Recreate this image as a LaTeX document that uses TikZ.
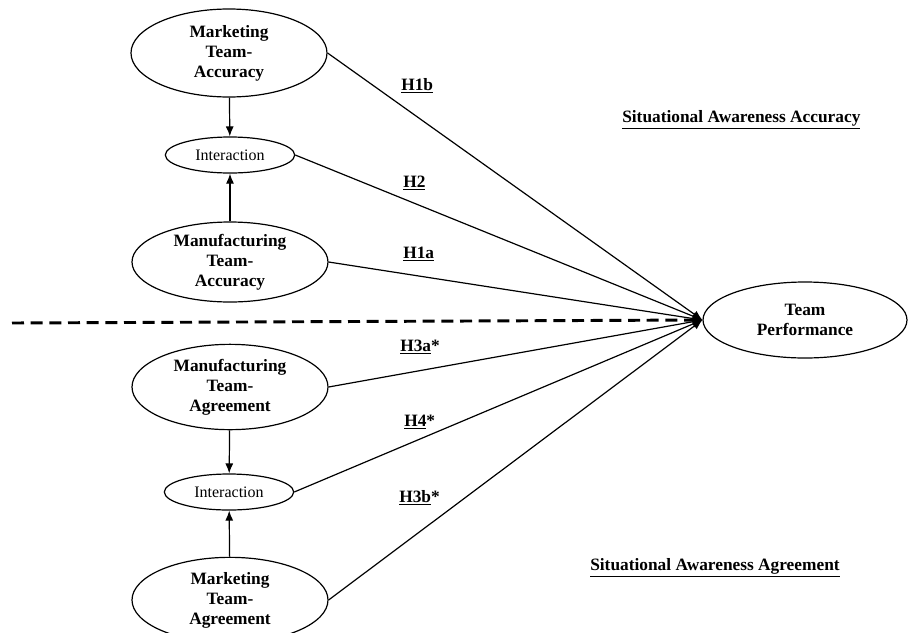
\documentclass[tikz,border=0pt]{standalone}
\usepackage{fontspec}
\setmainfont{Liberation Serif}
\usetikzlibrary{shapes, arrows.meta, positioning}
\tikzstyle{construct}=[draw,ellipse,line width=0.9pt,inner sep=0pt,align=center,font=\fontsize{13}{15}\selectfont\bfseries,minimum width=147pt,minimum height=62pt]
\tikzstyle{inter}=[draw,ellipse,line width=0.9pt,inner sep=0pt,font=\fontsize{12}{14}\selectfont,minimum width=97pt,minimum height=27pt]
\tikzstyle{hyp}=[anchor=west,inner sep=0pt,font=\fontsize{13}{15}\selectfont\bfseries]
\tikzstyle{link}=[->,line width=0.9pt]
\newcommand{\hy}[1]{\underline{#1}}

\begin{document}
\begin{tikzpicture}[x=0.75pt,y=-0.75pt,>={Latex[length=7.5pt,width=6pt]}]
  \useasboundingbox (0,0) rectangle (909,632);
  \clip (0,0) rectangle (909,632);
  % accuracy side
  \node[construct, minimum height=66pt] (mkacc) at (229,53) {Marketing\\Team-\\Accuracy};
  \node[inter] (intacc) at (230,155) {Interaction};
  \node[construct, minimum height=60pt] (mfacc) at (230,262) {Manufacturing\\Team-\\Accuracy};
  % agreement side
  \node[construct, minimum height=64pt] (mfagr) at (230,387) {Manufacturing\\Team-\\Agreement};
  \node[inter] (intagr) at (229,492) {Interaction};
  \node[construct, minimum height=64pt] (mkagr) at (230,600) {Marketing\\Team-\\Agreement};
  % outcome
  \node[construct, minimum width=153pt, minimum height=57pt] (perf) at (805,320) {Team\\Performance};
  % hypotheses
  \node[hyp] (h1b) at (401,86) {\hy{H1b}};
  \node[hyp] (h2) at (403,183) {\hy{H2}};
  \node[hyp] (h1a) at (403,254) {\hy{H1a}};
  \node[hyp] (h3a) at (400,347) {\hy{H3a}*};
  \node[hyp] (h4) at (404,422) {\hy{H4}*};
  \node[hyp] (h3b) at (399,498) {\hy{H3b}*};
  \node[hyp] (saacc) at (622,120) {\hy{Situational Awareness Accuracy}};
  \node[hyp] (saagr) at (590,568) {\hy{Situational Awareness Agreement}};
  \coordinate (dashstart) at (12,323);

  \draw[line width=2.2pt, dash pattern=on 9pt off 5pt] (dashstart) -- ([xshift=-3pt]perf.west);
  \draw[link] (mkacc) -- (intacc);
  \draw[link] (mfacc) -- (intacc);
  \draw[link] (mfagr) -- (intagr);
  \draw[link] (mkagr) -- (intagr);
  \draw[link] (mkacc.east) -- (perf.west);
  \draw[link] (intacc.east) -- (perf.west);
  \draw[link] (mfacc.east) -- (perf.west);
  \draw[link] (mfagr.east) -- (perf.west);
  \draw[link] (intagr.east) -- (perf.west);
  \draw[link] (mkagr.east) -- (perf.west);
\end{tikzpicture}
\end{document}
